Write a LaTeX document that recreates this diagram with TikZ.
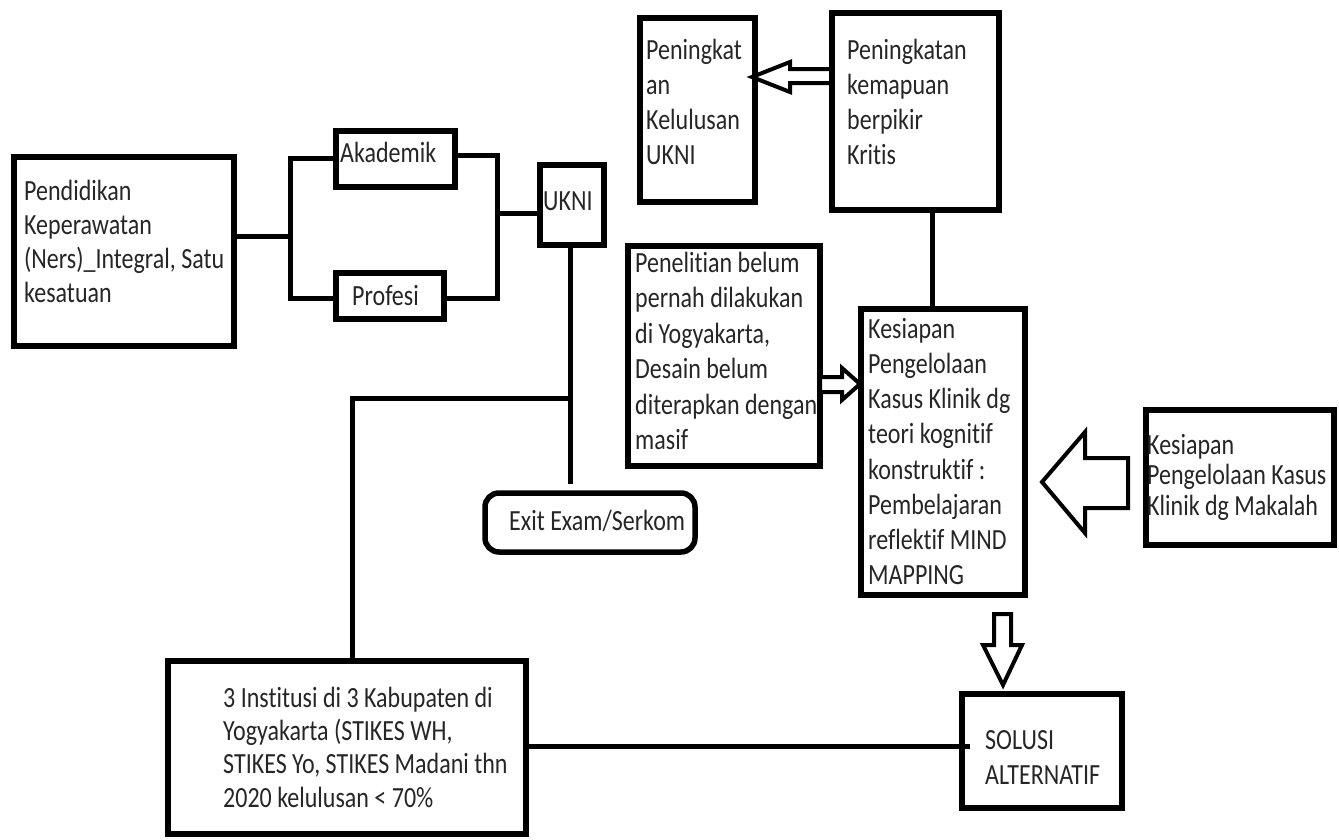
\documentclass[tikz,border=0pt]{standalone}
\usepackage{fontspec}
\setmainfont{Carlito}[Ligatures=NoCommon]
\usetikzlibrary{calc}
\newcommand{\boxtext}[2]{\scalebox{1}[1.22]{\fontsize{24pt}{#1}\selectfont\renewcommand{\arraystretch}{1}\begin{tabular}[t]{@{}l@{}}#2\end{tabular}}}
\begin{document}
\begin{tikzpicture}[x=1pt,y=-1pt,
  box/.style={draw, line width=5.5pt, inner sep=0pt},
  conn/.style={line width=5pt, line join=miter},
  harrow/.style={draw, line width=4pt, line join=miter, fill=white},
  lbl/.style={anchor=base west, inner sep=0pt, text=black!85}
]
\useasboundingbox[fill=white] (0,0) rectangle (1339,839);

% boxes
\node[box, minimum width=220pt, minimum height=189pt] (pend) at (124,251.5) {};
\node[box, minimum width=119pt, minimum height=56pt] (akad) at (395.5,159) {};
\node[box, minimum width=108pt, minimum height=46pt] (prof) at (390,296) {};
\node[box, minimum width=64pt, minimum height=80pt] (ukni) at (572,205) {};
\node[box, rounded corners=14pt, minimum width=210pt, minimum height=59pt] (exit) at (590,522.5) {};
\node[box, minimum width=358pt, minimum height=173pt] (inst) at (347,747.5) {};
\node[box, minimum width=160pt, minimum height=114pt] (sol) at (1042,751) {};
\node[box, minimum width=164pt, minimum height=286pt] (kes) at (943,452) {};
\node[box, minimum width=192pt, minimum height=220pt] (pen) at (724,356) {};
\node[box, minimum width=115pt, minimum height=184pt] (pg1) at (697.5,110) {};
\node[box, minimum width=167pt, minimum height=197pt] (pg2) at (915.5,111.5) {};
\node[box, minimum width=188pt, minimum height=135pt] (mak) at (1240,477.5) {};

% texts
\node[lbl] (pendt) at (24,200) {\boxtext{28.1pt}{Pendidikan\\Keperawatan\\(Ners)\_Integral, Satu\\kesatuan}};
\node[lbl] (akadt) at (340,162) {\boxtext{28.7pt}{Akademik}};
\node[lbl] (proft) at (352,305) {\boxtext{28.7pt}{Profesi}};
\node[lbl] (uknit) at (543,210) {\boxtext{28.7pt}{UKNI}};
\node[lbl] (exitt) at (509,530) {\boxtext{28.7pt}{Exit Exam/Serkom}};
\node[lbl] (instt) at (223,707) {\boxtext{27.4pt}{3 Institusi di 3 Kabupaten di\\Yogyakarta (STIKES WH,\\STIKES Yo, STIKES Madani thn\\2020 kelulusan < 70\%}};
\node[lbl] (solt) at (985,749) {\boxtext{28.7pt}{SOLUSI\\ALTERNATIF}};
\node[lbl] (kest) at (868,338) {\boxtext{28.9pt}{Kesiapan\\Pengelolaan\\Kasus Klinik dg\\teori kognitif\\konstruktif :\\Pembelajaran\\reflektif MIND\\MAPPING}};
\node[lbl] (pent) at (635,272) {\boxtext{29.1pt}{Penelitian belum\\pernah dilakukan\\di Yogyakarta,\\Desain belum\\diterapkan dengan\\masif}};
\node[lbl] (pg1t) at (646,59) {\boxtext{28.7pt}{Peningkat\\an\\Kelulusan\\UKNI}};
\node[lbl] (pg2t) at (847,59) {\boxtext{28.7pt}{Peningkatan\\kemapuan\\berpikir\\Kritis}};
\node[lbl] (makt) at (1147,454) {\boxtext{25pt}{Kesiapan\\Pengelolaan Kasus\\Klinik dg Makalah}};

% connector coordinates
\coordinate (j1) at (290,236);
\coordinate (ja) at (290,158);
\coordinate (jb) at (290,298);
\coordinate (ra) at (497,155);
\coordinate (rb) at (497,298);
\coordinate (rm) at (497,213);
\coordinate (ud) at (570,484);
\coordinate (h1) at (570,398);
\coordinate (h3) at (352,398);
\coordinate (bl) at (0,746);
\coordinate (vx) at (932,0);

% connectors
\draw[conn] (pend.east |- j1) -- (j1);
\draw[conn] (akad.west |- ja) -- (ja) -- (jb) -- (prof.west |- jb);
\draw[conn] (akad.east |- ra) -- (ra) -- (rb) -- (prof.east |- rb);
\draw[conn] (rm) -- ($(ukni.west |- rm)+(6,0)$);
\draw[conn] ($(ud |- ukni.south)+(0,-4)$) -- (ud);
\draw[conn] (h1) -- (h3) -- (h3 |- inst.north);
\draw[conn] (inst.east |- bl) -- ($(sol.west |- bl)+(11,0)$);
\draw[conn] (vx |- kes.north) -- (vx |- pg2.south);

% hollow block arrows
\draw[harrow] (752,77) -- (790,62) -- (790,69) -- (831,69) -- (831,83) -- (790,83) -- (790,92) -- cycle;
\draw[harrow] (820,377) -- (842,377) -- (842,368) -- (860,384) -- (842,400) -- (842,392) -- (820,392) -- cycle;
\draw[harrow] (1042,482) -- (1085,432) -- (1085,458) -- (1128,458) -- (1128,508) -- (1085,508) -- (1085,533) -- cycle;
\draw[harrow] (994,614) -- (1011,614) -- (1011,645) -- (1022,645) -- (1003,685) -- (983,645) -- (994,645) -- cycle;
\end{tikzpicture}
\end{document}
